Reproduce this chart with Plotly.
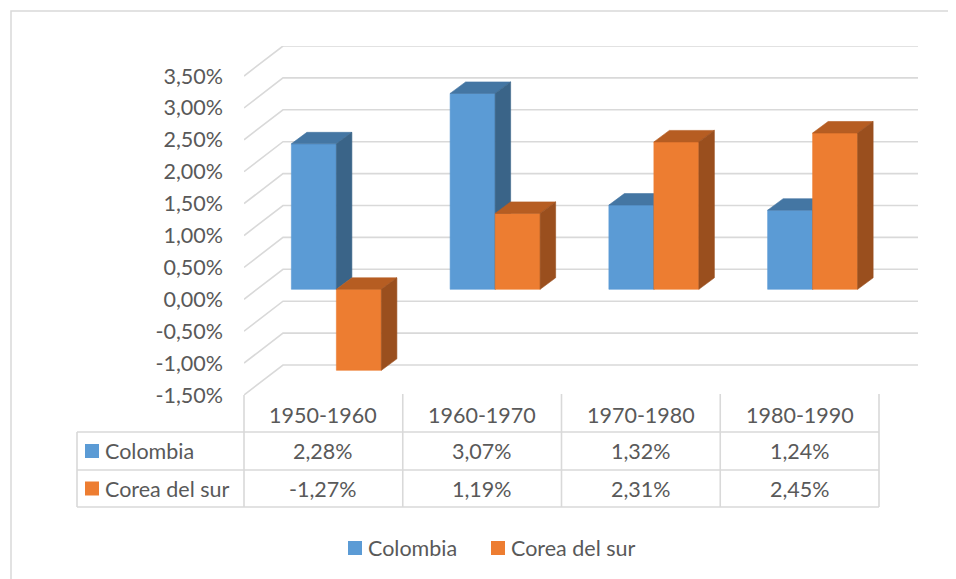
import plotly.graph_objects as go

# ---------------- data ----------------
categories = ["1950-1960", "1960-1970", "1970-1980", "1980-1990"]
colombia = [2.28, 3.07, 1.32, 1.24]
corea = [-1.27, 1.19, 2.31, 2.45]
series_names = ["Colombia", "Corea del sur"]
ytick_vals = [-1.5, -1.0, -0.5, 0.0, 0.5, 1.0, 1.5, 2.0, 2.5, 3.0, 3.5]

# ---------------- style / geometry ----------------
PAGE_OFF = 8                                # browser default body margin
W_FIG, H_FIG = 956 - PAGE_OFF, 579 - PAGE_OFF
PL, PR, PT, PB = 244, 918, 46, 395          # plot area in reference pixels
CAT_PX = 158.75                             # pixels per category
PCT_PX = 63.8                               # pixels per 1 %
XMIN = -0.5
XMAX = XMIN + (PR - PL) / CAT_PX
YMIN = -1.5
YMAX = YMIN + (PB - PT) / PCT_PX

WALL_DX = 39 / CAT_PX                       # depth of the 3D box
WALL_DY = 30 / PCT_PX
F_FRONT = 1 / 3                             # bar front plane depth fraction
FX, FY = F_FRONT * WALL_DX, F_FRONT * WALL_DY
BAR_W = 45 / CAT_PX
BDX, BDY = 15.5 / CAT_PX, 11.5 / PCT_PX     # bar depth

TEXT = "#595959"
GRID = "#D9D9D9"
FONT = "Lato"
FS = 21.5

front_col = ["#5B9BD5", "#ED7D31"]
top_col = ["#4476A3", "#B65D22"]
side_col = ["#3A6488", "#9A4F1E"]


def px_x(p):
    return (p - PL) / (PR - PL)


def px_y(p):
    return (PB - p) / (PB - PT)


def pct(v):
    return f"{v:.2f}".replace(".", ",") + "%"


fig = go.Figure()

# ---------------- walls / gridlines ----------------
for v in ytick_vals:
    fig.add_trace(go.Scatter(
        x=[XMIN, XMIN + WALL_DX, XMAX],
        y=[v, v + WALL_DY, v + WALL_DY],
        mode="lines", line=dict(color=GRID, width=1.6),
        hoverinfo="skip", showlegend=False))

# ---------------- 3D bars ----------------
values = [colombia, corea]


def poly(xs, ys, color):
    fig.add_trace(go.Scatter(
        x=xs + [xs[0]], y=ys + [ys[0]], mode="lines", fill="toself",
        fillcolor=color, line=dict(color=color, width=0.6),
        hoverinfo="skip", showlegend=False))


for i in range(len(categories)):
    for j in range(2):
        v = values[j][i]
        x0 = i + FX + (j - 1) * BAR_W
        x1 = x0 + BAR_W
        lo = min(0, v) + FY
        hi = max(0, v) + FY
        poly([x0, x1, x1, x0], [lo, lo, hi, hi], front_col[j])
        poly([x0, x1, x1 + BDX, x0 + BDX], [hi, hi, hi + BDY, hi + BDY], top_col[j])
        poly([x1, x1 + BDX, x1 + BDX, x1], [lo, lo + BDY, hi + BDY, hi], side_col[j])

shapes = []
annotations = []

# ---------------- chart border ----------------
shapes.append(dict(type="rect", xref="paper", yref="paper",
                   x0=px_x(11), x1=px_x(980), y0=px_y(11), y1=px_y(600),
                   line=dict(color=GRID, width=1.5), fillcolor="rgba(0,0,0,0)"))

# ---------------- data table ----------------
col_edges = [PL + k * CAT_PX for k in range(len(categories) + 1)]
TBL_LEFT = 77
HDR_TOP = 394
ROW_Y = [432, 470, 507]


def hline(x0, x1, y):
    shapes.append(dict(type="line", xref="paper", yref="paper",
                       x0=px_x(x0), x1=px_x(x1), y0=px_y(y), y1=px_y(y),
                       line=dict(color=GRID, width=1.6)))


def vline(x, y0, y1):
    shapes.append(dict(type="line", xref="paper", yref="paper",
                       x0=px_x(x), x1=px_x(x), y0=px_y(y0), y1=px_y(y1),
                       line=dict(color=GRID, width=1.6)))


for y in ROW_Y:
    hline(TBL_LEFT, col_edges[-1], y)
vline(TBL_LEFT, ROW_Y[0], ROW_Y[-1])
for xe in col_edges:
    vline(xe, PB if xe == col_edges[0] else HDR_TOP, ROW_Y[-1])

for i, c in enumerate(categories):
    cx = (col_edges[i] + col_edges[i + 1]) / 2
    annotations.append(dict(x=px_x(cx), y=px_y(415), xref="paper", yref="paper",
                            text=c, showarrow=False, xanchor="center", yanchor="middle",
                            font=dict(family=FONT, size=FS, color=TEXT)))
    for j in range(2):
        cy = (ROW_Y[j] + ROW_Y[j + 1]) / 2
        annotations.append(dict(x=px_x(cx), y=px_y(cy), xref="paper", yref="paper",
                                text=pct(values[j][i]), showarrow=False,
                                xanchor="center", yanchor="middle",
                                font=dict(family=FONT, size=FS, color=TEXT)))

for j in range(2):
    cy = (ROW_Y[j] + ROW_Y[j + 1]) / 2
    shapes.append(dict(type="rect", xref="paper", yref="paper",
                       x0=px_x(85), x1=px_x(99), y0=px_y(cy - 7), y1=px_y(cy + 7),
                       line=dict(width=0), fillcolor=front_col[j]))
    annotations.append(dict(x=px_x(103), y=px_y(cy), xref="paper", yref="paper",
                            text=series_names[j], showarrow=False, xanchor="left",
                            yanchor="middle", font=dict(family=FONT, size=FS, color=TEXT)))

# ---------------- legend ----------------
leg_y = 548
leg_sq = [348, 491]
for j in range(2):
    shapes.append(dict(type="rect", xref="paper", yref="paper",
                       x0=px_x(leg_sq[j]), x1=px_x(leg_sq[j] + 14),
                       y0=px_y(leg_y - 7), y1=px_y(leg_y + 7),
                       line=dict(width=0), fillcolor=front_col[j]))
    annotations.append(dict(x=px_x(leg_sq[j] + 18), y=px_y(leg_y), xref="paper", yref="paper",
                            text=series_names[j], showarrow=False, xanchor="left",
                            yanchor="middle", font=dict(family=FONT, size=FS, color=TEXT)))

fig.update_layout(
    width=W_FIG, height=H_FIG,
    margin=dict(l=PL - PAGE_OFF, r=W_FIG - (PR - PAGE_OFF), t=PT - PAGE_OFF,
                b=H_FIG - (PB - PAGE_OFF), pad=0),
    paper_bgcolor="white", plot_bgcolor="white",
    showlegend=False,
    shapes=shapes, annotations=annotations,
    xaxis=dict(range=[XMIN, XMAX], visible=False, fixedrange=True),
    yaxis=dict(range=[YMIN, YMAX], tickmode="array", tickvals=ytick_vals,
               ticktext=[pct(v) for v in ytick_vals],
               showgrid=False, zeroline=False, showline=False, ticks="",
               ticklabelstandoff=20,
               tickfont=dict(family=FONT, size=FS, color=TEXT)),
)

fig.write_html("out.html")
